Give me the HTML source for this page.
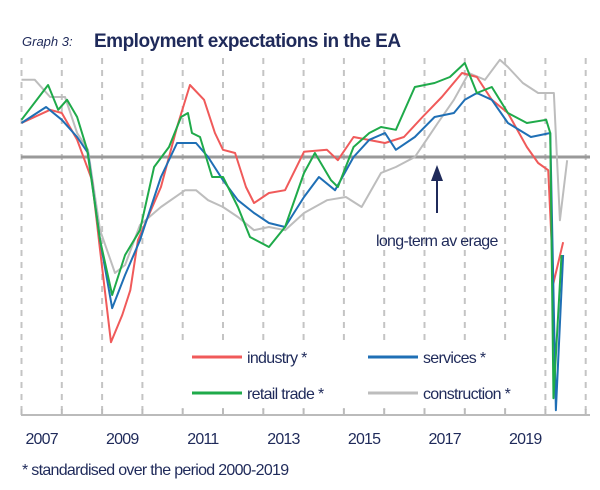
<!DOCTYPE html>
<html><head><meta charset="utf-8"><style>
body{margin:0;background:#fff;}
svg{display:block;font-family:"Liberation Sans",sans-serif;}
</style></head><body>
<svg id="chart" width="600" height="490">
<text x="22" y="46" fill="#1f2a5a" font-size="13" font-style="italic">Graph 3:</text>
<text x="94" y="47" fill="#1f2a5a" font-size="19" font-weight="bold" letter-spacing="-0.5">Employment expectations  in the EA</text>
<g id="grid"></g>
<rect x="176" y="340" width="344" height="68" fill="#fff"/>
<g id="series"></g>
<g id="legend"></g>
<text x="22" y="475" fill="#1f2a5a" font-size="16" letter-spacing="-0.7">* standardised over the period 2000-2019</text>
</svg>
<script>
const years=[2007,2008,2009,2010,2011,2012,2013,2014,2015,2016,2017,2018,2019,2020,2021];
const yearLabels=["2007","2009","2011","2013","2015","2017","2019"];
const industryDates=[2007.0,2007.71,2008.0,2008.38,2008.75,2008.95,2009.22,2009.5,2009.7,2009.89,2010.46,2010.86,2011.18,2011.53,2011.8,2012.0,2012.3,2012.57,2012.77,2013.14,2013.54,2014.01,2014.58,2014.85,2015.24,2016.02,2016.49,2016.95,2017.43,2017.93,2018.3,2018.67,2019.07,2019.54,2019.82,2020.07,2020.2,2020.44];
const industryValues=[0.85,1.18,1.1,0.43,-0.58,-2.33,-4.63,-3.95,-3.33,-2.08,-0.75,0.75,1.8,1.43,0.6,0.18,0.1,-0.75,-1.15,-0.9,-0.83,0.13,0.18,-0.08,0.5,0.35,0.5,1.0,1.5,2.1,2.0,1.43,1.1,0.25,-0.15,-0.33,-3.15,-2.13];
const retailDates=[2007.0,2007.66,2007.91,2008.13,2008.38,2008.63,2008.95,2009.25,2009.57,2009.94,2010.29,2010.66,2010.96,2011.13,2011.23,2011.43,2011.73,2012.0,2012.37,2012.67,2013.14,2013.54,2014.01,2014.28,2014.68,2014.85,2015.24,2015.63,2015.92,2016.29,2016.76,2017.25,2017.63,2018.0,2018.3,2018.67,2019.07,2019.54,2020.02,2020.12,2020.2,2020.4];
const retailValues=[0.93,1.8,1.18,1.43,1.0,0.18,-2.08,-3.45,-2.45,-1.83,-0.25,0.25,1.0,1.1,0.6,0.5,-0.5,-0.5,-1.25,-2.0,-2.25,-1.75,-0.4,0.1,-0.58,-0.75,0.25,0.6,0.75,0.68,1.75,1.85,2.0,2.35,1.6,1.75,1.1,0.85,0.93,0.6,-6.03,-2.45];
const servicesDates=[2007.0,2007.61,2008.0,2008.38,2008.65,2008.95,2009.25,2009.57,2009.94,2010.46,2010.86,2011.33,2011.63,2012.0,2012.37,2012.77,2013.14,2013.54,2014.01,2014.38,2014.78,2015.24,2015.63,2016.02,2016.29,2016.76,2017.25,2017.73,2018.0,2018.3,2018.67,2019.07,2019.64,2020.12,2020.26,2020.44];
const servicesValues=[0.85,1.25,0.93,0.5,0.1,-2.08,-3.78,-2.95,-2.08,-0.5,0.35,0.35,0,-0.58,-1.08,-1.4,-1.65,-1.75,-1.0,-0.5,-0.83,0,0.43,0.6,0.18,0.5,1.0,1.1,1.43,1.6,1.43,0.85,0.5,0.6,-6.33,-2.45];
const constructionDates=[2007.0,2007.33,2007.71,2008.08,2008.38,2008.65,2008.95,2009.32,2009.57,2009.94,2010.46,2011.06,2011.33,2011.63,2012.0,2012.37,2012.77,2013.14,2013.54,2014.01,2014.58,2015.05,2015.44,2015.92,2016.29,2016.76,2017.05,2017.33,2017.73,2018.1,2018.5,2018.87,2019.07,2019.44,2019.82,2020.21,2020.36,2020.54];
const constructionValues=[1.93,1.93,1.5,1.5,0.6,0.18,-1.83,-2.9,-2.7,-1.7,-1.25,-0.83,-0.83,-1.08,-1.25,-1.5,-1.83,-1.75,-1.83,-1.4,-1.08,-1.0,-1.25,-0.4,-0.25,0,0.43,0.85,1.43,2.1,1.93,2.43,2.25,1.85,1.6,1.6,-1.58,-0.08];

const NS="http://www.w3.org/2000/svg";
const xS=t=>21.5+(t-2007)*40.3;
const yS=v=>157-v*40;
const grid=document.getElementById('grid');
const series=document.getElementById('series');
const legend=document.getElementById('legend');
function mk(tag,attrs,parent){const e=document.createElementNS(NS,tag);for(const k in attrs)e.setAttribute(k,attrs[k]);parent.appendChild(e);return e;}

years.forEach(y=>{
  const l=mk('line',{x1:xS(y),x2:xS(y),y1:58,y2:410,stroke:'#c4c4c4','stroke-width':2,'stroke-dasharray':'6,6'},grid);
  
  
});
const ax=mk('line',{x1:21,x2:590,y1:415,y2:415,stroke:'#bbb','stroke-width':2},grid);


years.forEach(y=>{
  const t=mk('line',{x1:xS(y),x2:xS(y),y1:409,y2:415,stroke:'#bbb','stroke-width':2},grid);
  
  
});
yearLabels.forEach(s=>{
  const t=mk('text',{x:xS(+s+0.5),y:444,'text-anchor':'middle','font-size':16,fill:'#1f2a5a','letter-spacing':'-0.8'},grid);
  t.textContent=s;
  
  
});
const avg=mk('line',{x1:21,x2:590,y1:yS(0),y2:yS(0),stroke:'#999','stroke-width':3},grid);


const arr=mk('line',{x1:437,x2:437,y1:213,y2:178,stroke:'#1f2a5a','stroke-width':2},grid);


const ah=mk('polygon',{points:'431,181 443,181 437,165',fill:'#1f2a5a'},grid);


const at=mk('text',{x:376,y:246,'font-size':16,fill:'#1f2a5a','letter-spacing':'-0.7'},grid);
at.textContent='long-term av erage';



const defs=[
 ['construction',constructionDates,constructionValues,'#bdbdbd'],
 ['industry',industryDates,industryValues,'#f05a5a'],
 ['services',servicesDates,servicesValues,'#1f6fb5'],
 ['retail-trade',retailDates,retailValues,'#1faa4a']
];
defs.forEach(([n,d,v,c])=>{
  const p=mk('polyline',{points:d.map((t,i)=>xS(t)+','+yS(v[i])).join(' '),fill:'none',stroke:c,'stroke-width':2,'stroke-linejoin':'round'},series);
  
  
});
const leg=[['industry *','#f05a5a',192,357],['services *','#1f6fb5',368,357],['retail trade *','#1faa4a',192,393],['construction *','#bdbdbd',368,393]];
leg.forEach(([s,c,x,y])=>{
  const g=mk('g',{},legend);
  
  
  mk('line',{x1:x,x2:x+50,y1:y,y2:y,stroke:c,'stroke-width':3},g);
  const t=mk('text',{x:x+55,y:y+6,'font-size':16,fill:'#1f2a5a','letter-spacing':'-0.7'},g);
  t.textContent=s;
});
</script>
</body></html>
